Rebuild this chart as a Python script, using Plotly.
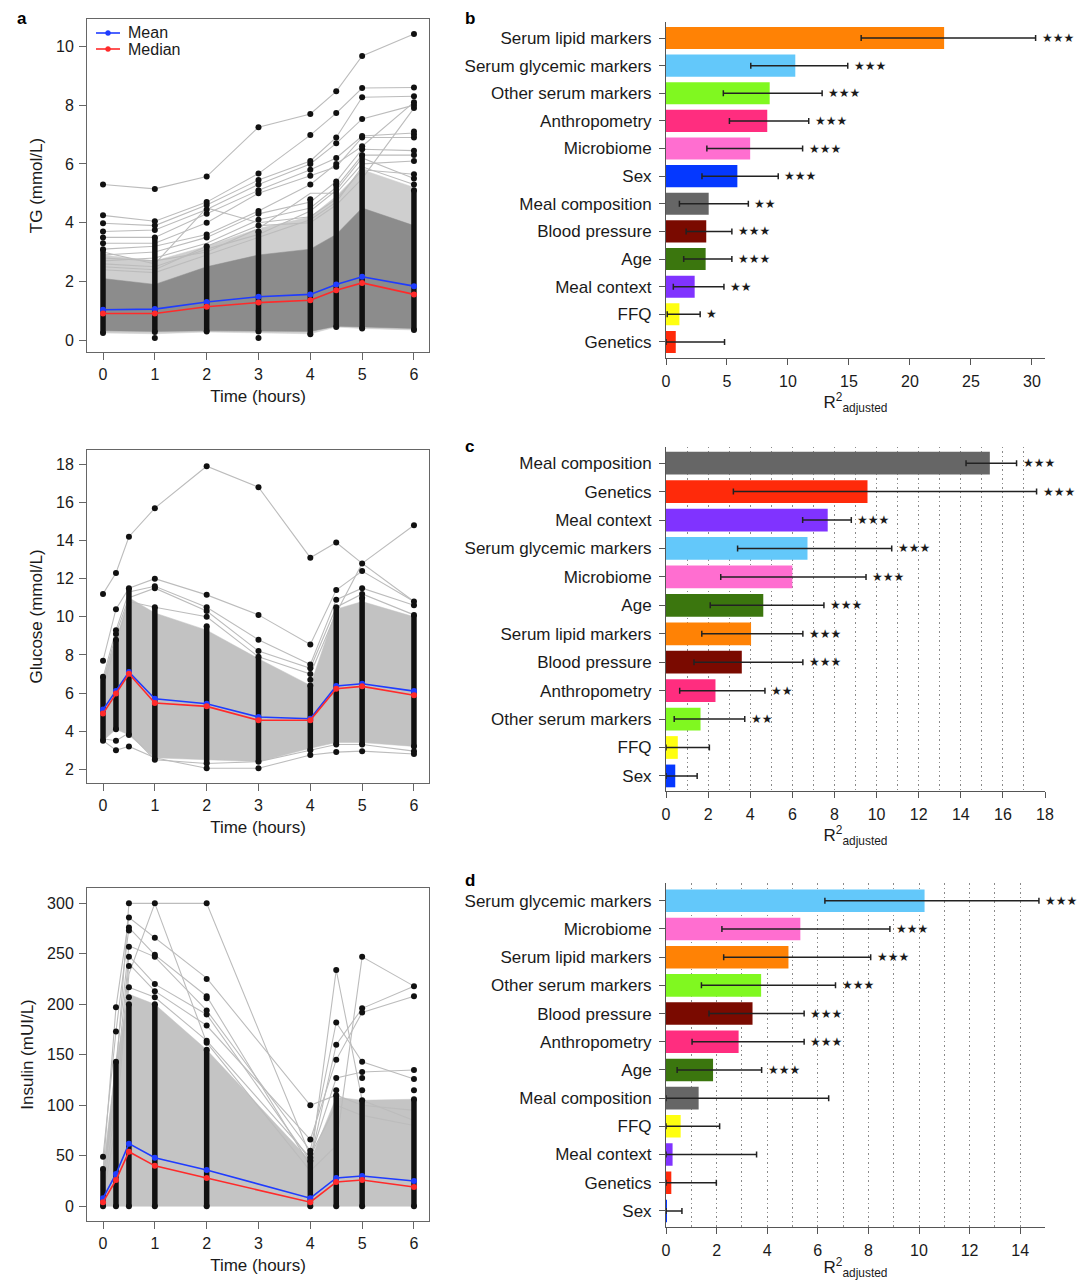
import plotly.graph_objects as go

# ======================= DATA =======================
# ---- Panel a (top): TG ----
tg_times = [0, 1, 2, 3, 4, 4.5, 5, 6]
tg_mean = [1.04, 1.06, 1.30, 1.48, 1.56, 1.90, 2.16, 1.84]
tg_median = [0.91, 0.91, 1.14, 1.28, 1.36, 1.70, 1.95, 1.56]
tg_core_lo = [0.32, 0.30, 0.32, 0.30, 0.30, 0.48, 0.45, 0.40]
tg_core_hi = [2.10, 1.90, 2.50, 2.90, 3.10, 3.60, 4.50, 3.90]
tg_outer_lo = [0.25, 0.22, 0.28, 0.25, 0.22, 0.45, 0.40, 0.35]
tg_outer_hi = [2.90, 2.70, 3.20, 3.80, 4.20, 4.90, 5.80, 5.20]
tg_lines = [
    [5.30, 5.15, 5.57, 7.25, 7.70, 8.47, 9.67, 10.42],
    [4.25, 4.05, 4.70, 5.67, 6.98, 7.73, 8.58, 8.60],
    [3.98, 3.90, 4.60, 5.45, 6.10, 6.90, 8.27, 8.30],
    [3.70, 3.75, 4.45, 5.30, 6.00, 6.70, 7.53, 8.00],
    [3.50, 3.50, 4.30, 5.10, 5.80, 6.20, 6.95, 7.05],
    [3.30, 3.30, 4.00, 5.00, 5.60, 5.90, 6.90, 6.90],
    [3.10, 3.20, 3.60, 4.40, 5.30, 6.00, 6.60, 8.10],
    [2.90, 3.00, 3.50, 4.30, 4.70, 5.40, 6.50, 6.45],
    [2.70, 2.80, 3.30, 4.10, 4.50, 5.20, 6.30, 6.30],
    [3.00, 2.60, 4.50, 4.00, 4.20, 4.80, 5.80, 5.65],
    [2.50, 2.40, 3.20, 3.90, 4.00, 4.60, 5.50, 7.90],
    [2.80, 2.70, 3.00, 3.80, 5.00, 5.00, 6.00, 6.10],
    [2.60, 2.50, 3.10, 3.60, 4.40, 5.10, 6.20, 5.50],
    [2.40, 2.30, 2.90, 3.50, 4.10, 4.70, 5.90, 5.30],
]
tg_dense_lo = [0.25, 0.28, 0.30, 0.30, 0.20, 0.45, 0.40, 0.35]
tg_dense_hi = [3.10, 3.50, 3.20, 3.70, 4.80, 5.30, 6.30, 5.10]
tg_out_t = [0, 0, 0, 0, 0, 0,
            1, 1, 1, 1, 1,
            2, 2, 2, 2, 2, 2, 2, 2,
            3, 3, 3, 3, 3, 3, 3, 3, 3, 3, 3,
            4, 4, 4, 4, 4, 4, 4,
            4.5, 4.5, 4.5, 4.5, 4.5, 4.5, 4.5, 4.5,
            5, 5, 5, 5, 5, 5, 5, 5,
            6, 6, 6, 6, 6, 6, 6, 6, 6, 6, 6, 6, 6, 6, 6]
tg_out_v = [3.30, 3.50, 3.70, 3.98, 4.25, 5.30,
            3.75, 3.90, 4.05, 5.15, 0.08,
            3.50, 3.60, 4.00, 4.30, 4.45, 4.60, 4.70, 5.57,
            3.90, 4.10, 4.30, 4.40, 5.00, 5.10, 5.30, 5.45, 5.67, 7.25, 0.08,
            5.30, 5.60, 5.80, 6.00, 6.10, 6.98, 7.70,
            5.40, 5.90, 6.20, 6.70, 6.90, 7.73, 8.47, 6.00,
            6.50, 6.90, 6.95, 7.53, 8.27, 8.58, 9.67, 6.60,
            5.30, 5.50, 5.65, 6.10, 6.30, 6.45, 6.90, 7.00, 7.10, 7.90, 8.00, 8.10, 8.30, 8.60, 10.42]

# ---- Panel a (middle): Glucose ----
gl_times = [0, 0.25, 0.5, 1, 2, 3, 4, 4.5, 5, 6]
gl_mean = [5.13, 6.10, 7.10, 5.70, 5.44, 4.74, 4.65, 6.37, 6.49, 6.10]
gl_median = [4.92, 5.97, 7.01, 5.48, 5.30, 4.57, 4.57, 6.23, 6.35, 5.88]
gl_band_lo = [3.50, 4.10, 3.80, 2.60, 2.50, 2.40, 3.10, 3.40, 3.40, 3.20]
gl_band_hi = [6.85, 8.80, 11.00, 10.20, 9.30, 7.80, 6.40, 10.40, 10.80, 10.00]
gl_lines = [
    [11.20, 12.30, 14.20, 15.70, 17.90, 16.80, 13.10, 13.90, 12.80, 14.80],
    [7.70, 10.40, 11.50, 12.00, 11.15, 10.10, 8.55, 11.40, 12.40, 10.80],
    [6.80, 9.30, 11.30, 11.60, 10.50, 8.80, 7.50, 10.90, 11.50, 10.60],
    [6.50, 9.10, 11.00, 11.50, 10.30, 8.20, 7.30, 10.50, 11.20, 10.10],
    [6.20, 8.70, 10.80, 10.50, 10.00, 7.90, 7.00, 10.20, 12.80, 10.80],
    [3.50, 3.00, 3.20, 2.60, 2.05, 2.05, 2.75, 2.90, 2.95, 2.80],
    [3.60, 3.50, 3.90, 2.50, 2.30, 2.40, 3.00, 3.30, 3.30, 2.95],
]
gl_dense_lo = [3.50, 4.10, 3.80, 2.50, 2.30, 2.40, 3.00, 3.30, 3.30, 3.20]
gl_dense_hi = [6.85, 8.80, 11.50, 10.50, 9.50, 7.90, 6.40, 10.50, 11.00, 10.10]
gl_out_t = [0, 0,
            0.25, 0.25, 0.25, 0.25, 0.25, 0.25,
            0.5, 0.5,
            1, 1, 1, 1,
            2, 2, 2, 2, 2, 2,
            3, 3, 3, 3, 3,
            4, 4, 4, 4, 4, 4, 4,
            4.5, 4.5, 4.5, 4.5,
            5, 5, 5, 5, 5,
            6, 6, 6, 6, 6]
gl_out_v = [7.70, 11.20,
            3.00, 3.50, 9.10, 9.30, 10.40, 12.30,
            3.20, 14.20,
            11.50, 11.60, 12.00, 15.70,
            2.05, 10.00, 10.30, 10.50, 11.15, 17.90,
            2.05, 8.20, 8.80, 10.10, 16.80,
            2.75, 6.70, 7.00, 7.30, 7.50, 8.55, 13.10,
            2.90, 10.90, 11.40, 13.90,
            2.95, 11.20, 11.50, 12.40, 12.80,
            2.80, 2.95, 10.60, 10.80, 14.80]

# ---- Panel a (bottom): Insulin ----
in_times = [0, 0.25, 0.5, 1, 2, 4, 4.5, 5, 6]
in_mean = [8, 32, 62, 48, 36, 8, 28, 30, 25]
in_median = [4, 26, 54, 40, 28, 4, 24, 26, 19]
in_band_lo = [0, 0, 0, 0, 0, 0, 0, 0, 0]
in_band_hi = [37, 143, 210, 200, 155, 45, 108, 105, 106]
in_lines = [
    [20, 130, 300, 300, 300, 50, 100, 90, 80],
    [35, 197, 286, 266, 226, 100, 110, 100, 95],
    [49, 173, 276, 249, 208, 40, 234, 105, 85],
    [25, 143, 258, 247, 194, 55, 182, 143, 126],
    [30, 120, 248, 220, 190, 45, 160, 196, 218],
    [15, 100, 240, 213, 179, 66, 145, 192, 208],
    [10, 80, 230, 300, 162, 35, 60, 247, 218],
    [28, 110, 217, 207, 164, 48, 127, 133, 135],
]
in_dense_lo = [0, 0, 0, 0, 0, 0, 0, 0, 0]
in_dense_hi = [37, 143, 200, 200, 155, 45, 110, 105, 106]
in_out_t = [0,
            0.25, 0.25,
            0.5, 0.5, 0.5, 0.5, 0.5, 0.5, 0.5, 0.5, 0.5,
            1, 1, 1, 1, 1, 1, 1,
            2, 2, 2, 2, 2, 2, 2, 2, 2,
            4, 4, 4, 4, 4,
            4.5, 4.5, 4.5, 4.5, 4.5, 4.5,
            5, 5, 5, 5, 5, 5, 5,
            6, 6, 6, 6, 6]
in_out_v = [49,
            173, 197,
            207, 217, 238, 247, 257, 273, 276, 286, 300,
            207, 213, 220, 247, 249, 266, 300,
            162, 164, 179, 190, 194, 206, 208, 225, 300,
            48, 52, 55, 66, 100,
            115, 127, 145, 160, 182, 234,
            115, 127, 133, 143, 192, 196, 247,
            115, 126, 135, 208, 218]

# ---- Panel b: TG model ----
b_cats = ["Serum lipid markers", "Serum glycemic markers", "Other serum markers",
          "Anthropometry", "Microbiome", "Sex", "Meal composition", "Blood pressure",
          "Age", "Meal context", "FFQ", "Genetics"]
b_vals = [22.8, 10.6, 8.5, 8.3, 6.9, 5.85, 3.5, 3.3, 3.25, 2.35, 1.1, 0.8]
b_lo = [16.0, 6.95, 4.7, 5.2, 3.35, 2.95, 1.1, 1.65, 1.45, 0.6, 0.1, 0.0]
b_hi = [30.3, 14.9, 12.8, 11.7, 11.2, 9.2, 6.75, 5.4, 5.4, 4.75, 2.8, 4.8]
b_sig = ["***", "***", "***", "***", "***", "***", "**", "***", "***", "**", "*", ""]

# ---- Panel c: Glucose model ----
c_cats = ["Meal composition", "Genetics", "Meal context", "Serum glycemic markers",
          "Microbiome", "Age", "Serum lipid markers", "Blood pressure",
          "Anthropometry", "Other serum markers", "FFQ", "Sex"]
c_vals = [15.38, 9.57, 7.68, 6.72, 6.0, 4.62, 4.04, 3.6, 2.35, 1.64, 0.56, 0.44]
c_lo = [14.25, 3.2, 6.49, 3.4, 2.6, 2.1, 1.7, 1.33, 0.65, 0.39, 0.0, 0.0]
c_hi = [16.65, 17.6, 8.8, 10.72, 9.5, 7.5, 6.5, 6.5, 4.7, 3.74, 2.06, 1.48]
c_sig = ["***", "***", "***", "***", "***", "***", "***", "***", "**", "**", "", ""]

# ---- Panel d: Insulin model ----
d_cats = ["Serum glycemic markers", "Microbiome", "Serum lipid markers",
          "Other serum markers", "Blood pressure", "Anthropometry", "Age",
          "Meal composition", "FFQ", "Meal context", "Genetics", "Sex"]
d_vals = [10.22, 5.31, 4.84, 3.76, 3.42, 2.87, 1.86, 1.29, 0.58, 0.26, 0.21, 0.03]
d_lo = [6.28, 2.21, 2.28, 1.4, 1.7, 1.03, 0.44, 0.0, 0.0, 0.0, 0.0, 0.0]
d_hi = [14.74, 8.85, 8.09, 6.7, 5.46, 5.46, 3.78, 6.43, 2.12, 3.58, 1.99, 0.63]
d_sig = ["***", "***", "***", "***", "***", "***", "***", "", "", "", "", ""]

group_colors = {
    "Serum lipid markers": "#FF8205",
    "Serum glycemic markers": "#63C8FA",
    "Other serum markers": "#80F820",
    "Anthropometry": "#FF2D7F",
    "Microbiome": "#FF6ED0",
    "Sex": "#0538FF",
    "Meal composition": "#666666",
    "Blood pressure": "#7A0A00",
    "Age": "#3B760E",
    "Meal context": "#8033FF",
    "FFQ": "#FFFF10",
    "Genetics": "#FF2A0A",
}

legend_labels = ["Mean", "Median"]
legend_colors = ["#1f3cff", "#ff2a2a"]

# ======================= STYLE =======================
FONT = "Liberation Sans, Arial, Helvetica, sans-serif"
STARFONT = "DejaVu Sans, sans-serif"
TXT = "#1a1a1a"
AX = "#555555"
W, H = 1080, 1280

fig = go.Figure()


def dom_x(p0, p1):
    return [p0 / W, p1 / W]


def dom_y(top, bottom):
    return [1 - bottom / H, 1 - top / H]


# ----- spaghetti panels -----
def spaghetti(times, bands, lines, dlo, dhi, out_t, out_v, mean, median, xa, ya):
    for lo, hi, col in bands:
        fig.add_trace(go.Scatter(x=times, y=lo, mode="lines", line=dict(width=0.5, color=col),
                                 hoverinfo="skip", showlegend=False, xaxis=xa, yaxis=ya))
        fig.add_trace(go.Scatter(x=times, y=hi, mode="lines", line=dict(width=0.5, color=col),
                                 fill="tonexty", fillcolor=col, hoverinfo="skip",
                                 showlegend=False, xaxis=xa, yaxis=ya))
    for ln in lines:
        fig.add_trace(go.Scatter(x=times, y=ln, mode="lines", line=dict(width=1.1, color="#bcbcbc"),
                                 hoverinfo="skip", showlegend=False, xaxis=xa, yaxis=ya))
    cx, cy = [], []
    for t, lo, hi in zip(times, dlo, dhi):
        cx += [t, t, None]
        cy += [lo, hi, None]
    fig.add_trace(go.Scatter(x=cx, y=cy, mode="lines", line=dict(width=5.5, color="#111111"),
                             hoverinfo="skip", showlegend=False, xaxis=xa, yaxis=ya))
    fig.add_trace(go.Scatter(x=list(times) + list(times) + list(out_t),
                             y=list(dlo) + list(dhi) + list(out_v),
                             mode="markers", marker=dict(size=6, color="#111111"),
                             hoverinfo="skip", showlegend=False, xaxis=xa, yaxis=ya))
    for vals, name, col in [(mean, legend_labels[0], legend_colors[0]),
                            (median, legend_labels[1], legend_colors[1])]:
        fig.add_trace(go.Scatter(x=times, y=vals, mode="lines+markers", name=name,
                                 line=dict(width=1.6, color=col), marker=dict(size=6, color=col),
                                 showlegend=False, xaxis=xa, yaxis=ya))


spaghetti(tg_times,
          [(tg_outer_lo, tg_outer_hi, "#cfcfcf"), (tg_core_lo, tg_core_hi, "#8c8c8c")],
          tg_lines, tg_dense_lo, tg_dense_hi, tg_out_t, tg_out_v, tg_mean, tg_median,
          "x", "y")
spaghetti(gl_times, [(gl_band_lo, gl_band_hi, "#c2c2c2")],
          gl_lines, gl_dense_lo, gl_dense_hi, gl_out_t, gl_out_v, gl_mean, gl_median,
          "x2", "y2")
spaghetti(in_times, [(in_band_lo, in_band_hi, "#c4c4c4")],
          in_lines, in_dense_lo, in_dense_hi, in_out_t, in_out_v, in_mean, in_median,
          "x3", "y3")

# ----- bar panels -----
annotations = []


def bars(cats, vals, lo, hi, sig, xa, ya):
    fig.add_trace(go.Bar(
        x=vals, y=cats, orientation="h", width=0.8,
        marker=dict(color=[group_colors[c] for c in cats], line=dict(width=0)),
        error_x=dict(type="data", symmetric=False,
                     array=[h - v for h, v in zip(hi, vals)],
                     arrayminus=[v - l for v, l in zip(vals, lo)],
                     color="#222222", thickness=1.5, width=3),
        showlegend=False, hoverinfo="skip", xaxis=xa, yaxis=ya))
    for c, h, s in zip(cats, hi, sig):
        if s:
            annotations.append(dict(x=h, y=c, xref=xa, yref=ya, text="★" * len(s),
                                    showarrow=False, xanchor="left", yanchor="middle",
                                    xshift=4, yshift=0,
                                    font=dict(family=STARFONT, size=12, color=TXT)))


bars(b_cats, b_vals, b_lo, b_hi, b_sig, "x4", "y4")
bars(c_cats, c_vals, c_lo, c_hi, c_sig, "x5", "y5")
bars(d_cats, d_vals, d_lo, d_hi, d_sig, "x6", "y6")

# ======================= AXES =======================
tickfont = dict(family=FONT, size=16, color=TXT)
catfont = dict(family=FONT, size=17, color=TXT)
titlefont = dict(family=FONT, size=17, color=TXT)
GRIDDASH = "1.5px,3px"
GRIDCOL = "#8a8a8a"

LX = dom_x(87, 429)
RX = dom_x(666, 1045)


def left_x(anchor):
    return dict(domain=LX, range=[-0.309, 6.29], tickvals=[0, 1, 2, 3, 4, 5, 6],
                showline=True, mirror=True, linecolor="#666666", linewidth=1,
                ticks="outside", ticklen=7, tickcolor="#666666", tickfont=tickfont,
                ticklabelstandoff=1, showgrid=False, zeroline=False, anchor=anchor,
                automargin=False,
                title=dict(text="Time (hours)", font=titlefont, standoff=7))


def left_y(dom, rng, tv, title, anchor):
    return dict(domain=dom, range=rng, tickvals=tv, showline=True, mirror=True,
                linecolor="#666666", linewidth=1, ticks="outside", ticklen=7,
                tickcolor="#666666", tickfont=tickfont, ticklabelstandoff=2,
                showgrid=False, zeroline=False, anchor=anchor, automargin=False,
                title=dict(text=title, font=titlefont, standoff=9))


def right_x(rng, dtick, grid, anchor):
    d = dict(domain=RX, range=rng, dtick=dtick, tick0=0, showline=True, linecolor=AX,
             linewidth=1, ticks="outside", ticklen=6, tickcolor=AX, tickfont=tickfont,
             ticklabelstandoff=3, zeroline=False, anchor=anchor, automargin=False,
             title=dict(text="R<sup>2</sup><sub>adjusted</sub>", font=titlefont, standoff=5))
    if grid:
        d.update(showgrid=True, griddash=GRIDDASH, gridcolor=GRIDCOL, gridwidth=1,
                 minor=dict(dtick=1, tick0=0, showgrid=True, griddash=GRIDDASH,
                            gridcolor=GRIDCOL, gridwidth=1, ticks=""))
    else:
        d.update(showgrid=False)
    return d


def right_y(dom, cats, top_pad, bot_pad, anchor):
    n = len(cats)
    return dict(domain=dom, type="category", categoryorder="array", categoryarray=cats,
                range=[n - 1 + bot_pad, -top_pad], showline=True, linecolor=AX, linewidth=1,
                ticks="outside", ticklen=6, tickcolor=AX, tickfont=catfont,
                ticklabelstandoff=4, showgrid=False, zeroline=False, anchor=anchor,
                automargin=False)


fig.update_layout(
    width=W, height=H, margin=dict(l=0, r=0, t=0, b=0, autoexpand=False),
    paper_bgcolor="white", plot_bgcolor="white",
    font=dict(family=FONT, size=16, color=TXT),
    showlegend=False,
    xaxis=left_x("y"),
    yaxis=left_y(dom_y(19, 352), [-0.4, 10.93], [0, 2, 4, 6, 8, 10], "TG (mmol/L)", "x"),
    xaxis2=left_x("y2"),
    yaxis2=left_y(dom_y(450, 783), [1.28, 18.75], [2, 4, 6, 8, 10, 12, 14, 16, 18],
                  "Glucose (mmol/L)", "x2"),
    xaxis3=left_x("y3"),
    yaxis3=left_y(dom_y(888, 1221), [-14.6, 315.2], [0, 50, 100, 150, 200, 250, 300],
                  "Insulin (mUI/L)", "x3"),
    xaxis4=right_x([0, 31.07], 5, False, "y4"),
    yaxis4=right_y(dom_y(21.7, 357.7), b_cats, 0.59, 0.57, "x4"),
    xaxis5=right_x([0, 18.0], 2, True, "y5"),
    yaxis5=right_y(dom_y(446.7, 791), c_cats, 0.58, 0.53, "x5"),
    xaxis6=right_x([0, 14.98], 2, True, "y6"),
    yaxis6=right_y(dom_y(883.3, 1226.7), d_cats, 0.62, 0.56, "x6"),
    bargap=0.2,
)

# manual legend (panel a, top)
shapes = []
for i, (lab, col) in enumerate(zip(legend_labels, legend_colors)):
    yy = 1 - (33 + 16 * i) / H
    shapes.append(dict(type="line", xref="paper", yref="paper", x0=96 / W, x1=120 / W,
                       y0=yy, y1=yy, line=dict(color=col, width=1.6)))
    shapes.append(dict(type="circle", xref="paper", yref="paper",
                       x0=105.5 / W, x1=110.5 / W, y0=yy - 2.5 / H, y1=yy + 2.5 / H,
                       fillcolor=col, line=dict(color=col, width=0.5)))
    annotations.append(dict(x=126 / W, y=yy, xref="paper", yref="paper", text=lab,
                            showarrow=False, xanchor="left", yanchor="middle",
                            font=dict(family=FONT, size=16, color=TXT)))

for letter, px, py in [("a", 15, 7), ("b", 463, 7), ("c", 463, 435), ("d", 463, 869)]:
    annotations.append(dict(x=px / W, y=1 - py / H, xref="paper", yref="paper",
                            text="<b>%s</b>" % letter, showarrow=False, xanchor="left",
                            yanchor="top", font=dict(family=FONT, size=17, color="#000000")))

fig.update_layout(annotations=annotations, shapes=shapes)

fig.write_html("out.html", config={"displayModeBar": False},
               post_script="document.body.style.margin='0';")
